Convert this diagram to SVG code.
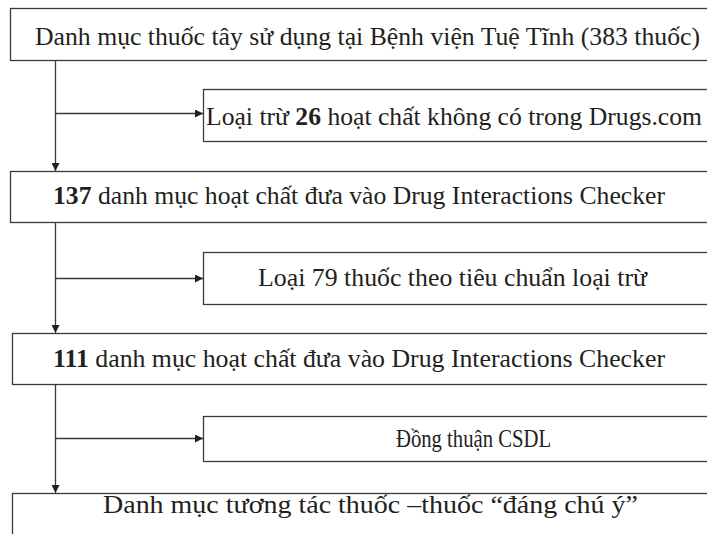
<svg xmlns="http://www.w3.org/2000/svg" width="707" height="534" viewBox="0 0 707 534">
<style>
.box{fill:#fff;stroke:#3a3a3a;stroke-width:1.3}
.t{font-family:"Liberation Serif","Times New Roman",serif;font-size:26px;fill:#231f20}
.b{font-weight:bold}
.ln{fill:none;stroke:#3a3a3a;stroke-width:1.3}
</style>
<defs>
<marker id="ah" viewBox="0 0 10 10" refX="10" refY="5" markerWidth="8" markerHeight="8" markerUnits="userSpaceOnUse" orient="auto">
<path d="M0,0 L10,5 L0,10 Z" fill="#231f20"/>
</marker>
</defs>
<rect width="707" height="534" fill="#fff"/>
<g id="n1">
<rect class="box" x="10.5" y="8.5" width="720" height="52"/>
<text class="t" x="35" y="45" textLength="665" lengthAdjust="spacingAndGlyphs">Danh mục thuốc tây sử dụng tại Bệnh viện Tuệ Tĩnh (383 thuốc)</text>
</g>
<g id="s1">
<rect class="box" x="203.5" y="89.5" width="520" height="52"/>
<text class="t" x="206" y="125" textLength="496" lengthAdjust="spacingAndGlyphs">Loại trừ <tspan class="b">26</tspan> hoạt chất không có trong Drugs.com</text>
</g>
<g id="n2">
<rect class="box" x="10.5" y="171.5" width="720" height="51"/>
<text class="t" x="53" y="204" textLength="612" lengthAdjust="spacingAndGlyphs"><tspan class="b">137</tspan> danh mục hoạt chất đưa vào Drug Interactions Checker</text>
</g>
<g id="s2">
<rect class="box" x="203.5" y="252.5" width="520" height="52"/>
<text class="t" x="258" y="286" textLength="389" lengthAdjust="spacingAndGlyphs">Loại 79 thuốc theo tiêu chuẩn loại trừ</text>
</g>
<g id="n3">
<rect class="box" x="12.5" y="333.5" width="720" height="51"/>
<text class="t" x="53" y="367" textLength="612" lengthAdjust="spacingAndGlyphs"><tspan class="b">111</tspan> danh mục hoạt chất đưa vào Drug Interactions Checker</text>
</g>
<g id="s3">
<rect class="box" x="203.5" y="416.5" width="520" height="45"/>
<text class="t" x="396" y="447" textLength="155" lengthAdjust="spacingAndGlyphs">Đồng thuận CSDL</text>
</g>
<g id="n4">
<rect class="box" x="12.5" y="493.5" width="720" height="60"/>
<text class="t" x="103" y="513" textLength="535" lengthAdjust="spacingAndGlyphs">Danh mục tương tác thuốc –thuốc “đáng chú ý”</text>
</g>
<g id="connectors">
<line class="ln" x1="55.5" y1="61" x2="55.5" y2="171" marker-end="url(#ah)"/>
<line class="ln" x1="55.5" y1="113.5" x2="203" y2="113.5" marker-end="url(#ah)"/>
<line class="ln" x1="55.5" y1="223" x2="55.5" y2="333" marker-end="url(#ah)"/>
<line class="ln" x1="55.5" y1="278.5" x2="203" y2="278.5" marker-end="url(#ah)"/>
<line class="ln" x1="55.5" y1="385" x2="55.5" y2="493" marker-end="url(#ah)"/>
<line class="ln" x1="55.5" y1="438.5" x2="203" y2="438.5" marker-end="url(#ah)"/>
</g>
</svg>
